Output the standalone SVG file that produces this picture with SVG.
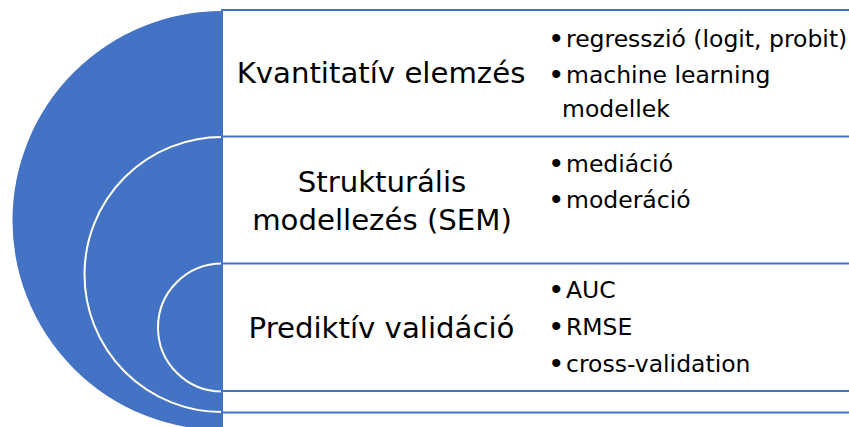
<svg xmlns="http://www.w3.org/2000/svg" width="849" height="427" viewBox="0 0 849 427">
  <style>
    .ring { fill: #4472C4; stroke: #FFFFFF; stroke-width: 2; }
    .panel { fill: #FFFFFF; stroke: #4472C4; stroke-width: 2; }
    .title { font-family: "DejaVu Sans", "Liberation Sans", sans-serif; font-size: 29.2px; fill: #000000; text-anchor: middle; }
    .item { font-family: "DejaVu Sans", "Liberation Sans", sans-serif; font-size: 23.5px; fill: #000000; }
    .dot { font-family: "Liberation Sans", sans-serif; font-size: 30px; }
  </style>
  <rect width="849" height="427" fill="#FFFFFF"/>

  <!-- nested target rings -->
  <g id="rings">
    <circle class="ring" cx="222" cy="220.5" r="210.5" stroke="none"/>
    <circle class="ring" cx="222" cy="274.5" r="137.5"/>
    <circle class="ring" cx="222" cy="327.5" r="64"/>
  </g>

  <g id="connectors"/>

  <!-- level 1 -->
  <g id="node-kvantitativ">
    <rect class="panel" x="222" y="10" width="700" height="421"/>
    <text class="title" x="381" y="83">Kvantitatív elemzés</text>
    <text class="item"><tspan class="dot" x="551" y="47.5">•</tspan><tspan x="566" y="47">regresszió (logit, probit)</tspan></text>
    <text class="item"><tspan class="dot" x="551" y="83.5">•</tspan><tspan x="566" y="83">machine learning</tspan><tspan x="562" y="117">modellek</tspan></text>
  </g>

  <!-- level 2 -->
  <g id="node-sem">
    <rect class="panel" x="222" y="136.5" width="700" height="276"/>
    <text class="title"><tspan x="382" y="192">Strukturális</tspan><tspan x="382" y="230">modellezés (SEM)</tspan></text>
    <text class="item"><tspan class="dot" x="551" y="172.5">•</tspan><tspan x="566" y="172">mediáció</tspan></text>
    <text class="item"><tspan class="dot" x="551" y="208.5">•</tspan><tspan x="566" y="208">moderáció</tspan></text>
  </g>

  <!-- level 3 -->
  <g id="node-validacio">
    <rect class="panel" x="222" y="263.5" width="700" height="127.5"/>
    <text class="title" x="381.5" y="338">Prediktív validáció</text>
    <text class="item"><tspan class="dot" x="551" y="298.5">•</tspan><tspan x="566" y="298">AUC</tspan></text>
    <text class="item"><tspan class="dot" x="551" y="335.5">•</tspan><tspan x="566" y="335">RMSE</tspan></text>
    <text class="item"><tspan class="dot" x="551" y="372.5">•</tspan><tspan x="566" y="372">cross-validation</tspan></text>
  </g>
</svg>
